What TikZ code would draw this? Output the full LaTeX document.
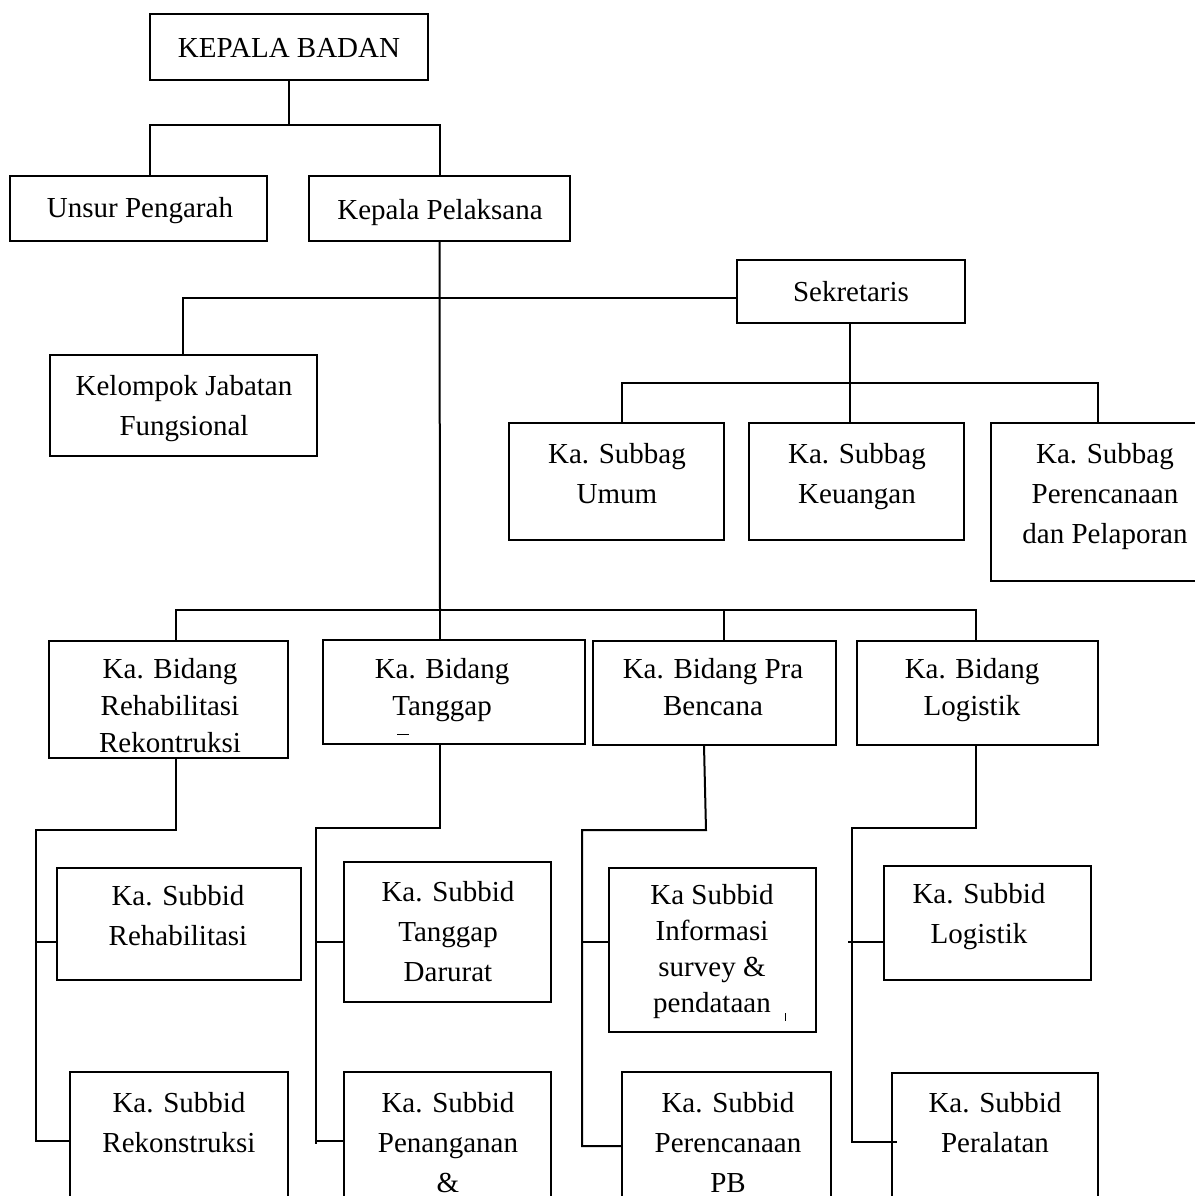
\documentclass[tikz,border=0pt]{standalone}
\usepackage{fontspec}
\setmainfont{Liberation Serif}
\usetikzlibrary{fit}
\begin{document}
\begin{tikzpicture}[x=0.5pt,y=-0.5pt,line width=1pt,
  orgbox/.style={draw,line width=1pt,inner sep=0pt,outer sep=0pt},
  lbl/.style={align=center,inner sep=0pt,anchor=north,font=\fontsize{14.5}{20}\selectfont},
  tight/.style={font=\fontsize{14.5}{18.5}\selectfont},
  tighter/.style={font=\fontsize{14.5}{18}\selectfont},
  speck/.style={line width=0.5pt}]
\useasboundingbox (0,0) rectangle (1195,1196);
\fill[white] (0,0) rectangle (1195,1196);
\clip (0,0) rectangle (1195,1196);
% boxes
\node[orgbox,fit={(150,14) (428,80)}] (kb) {};
\node[orgbox,fit={(10,176) (267,241)}] (up) {};
\node[orgbox,fit={(309,176) (570,241)}] (kp) {};
\node[orgbox,fit={(737,260) (965,323)}] (sek) {};
\node[orgbox,fit={(50,355) (317,456)}] (kjf) {};
\node[orgbox,fit={(509,423) (724,540)}] (sb1) {};
\node[orgbox,fit={(749,423) (964,540)}] (sb2) {};
\node[orgbox,fit={(991,423) (1215,581)}] (sb3) {};
\node[orgbox,fit={(49,641) (288,758)}] (b1) {};
\node[orgbox,fit={(323,640) (585,744)}] (b2) {};
\node[orgbox,fit={(593,641) (836,745)}] (b3) {};
\node[orgbox,fit={(857,641) (1098,745)}] (b4) {};
\node[orgbox,fit={(57,868) (301,980)}] (s11) {};
\node[orgbox,fit={(70,1072) (288,1230)}] (s12) {};
\node[orgbox,fit={(344,862) (551,1002)}] (s21) {};
\node[orgbox,fit={(344,1072) (551,1230)}] (s22) {};
\node[orgbox,fit={(609,868) (816,1032)}] (s31) {};
\node[orgbox,fit={(622,1072) (831,1230)}] (s32) {};
\node[orgbox,fit={(884,866) (1091,980)}] (s41) {};
\node[orgbox,fit={(892,1073) (1098,1230)}] (s42) {};
% texts
\node[lbl] (kbt) at (289,37) {KEPALA BADAN};
\node[lbl] (upt) at (140,196) {Unsur Pengarah};
\node[lbl] (kpt) at (440,198) {Kepala Pelaksana};
\node[lbl] (sekt) at (851,280) {Sekretaris};
\node[lbl] (kjft) at (184,374) {Kelompok Jabatan\\Fungsional};
\node[lbl] (sb1t) at (617,442) {Ka. Subbag\\Umum};
\node[lbl] (sb2t) at (857,442) {Ka. Subbag\\Keuangan};
\node[lbl] (sb3t) at (1105,442) {Ka. Subbag\\Perencanaan\\dan Pelaporan};
\node[lbl,tight] (b1t) at (170,657) {Ka. Bidang\\Rehabilitasi\\Rekontruksi};
\node[lbl,tight] (b2t) at (442,657) {Ka. Bidang\\Tanggap};
\node[lbl,tight] (b3t) at (713,657) {Ka. Bidang Pra\\Bencana};
\node[lbl,tight] (b4t) at (972,657) {Ka. Bidang\\Logistik};
\node[lbl] (s11t) at (178,884) {Ka. Subbid\\Rehabilitasi};
\node[lbl] (s12t) at (179,1091) {Ka. Subbid\\Rekonstruksi};
\node[lbl] (s21t) at (448,880) {Ka. Subbid\\Tanggap\\Darurat};
\node[lbl] (s22t) at (448,1091) {Ka. Subbid\\Penanganan\\\&};
\node[lbl,tighter] (s31t) at (712,883) {Ka Subbid\\Informasi\\survey \&\\pendataan};
\node[lbl] (s32t) at (728,1091) {Ka. Subbid\\Perencanaan\\PB};
\node[lbl] (s41t) at (979,882) {Ka. Subbid\\Logistik};
\node[lbl] (s42t) at (995,1091) {Ka. Subbid\\Peralatan};
% specks
\draw[speck] (397,734) -- (409,734);
\draw[speck] (785,1013) -- (785,1021);
% junction coordinates
\coordinate (j0) at (289,125);
\coordinate (j1) at (440,610);
\coordinate (j2) at (850,383);
% connectors
\draw (kb.south) -- (j0);
\draw (up.north -| 150,0) -- (150,125) -- (kp.north |- j0) -- (kp.north);
\draw (kp.south) -- (j1);
\draw (kjf.north -| 183,0) |- (sek.west |- 0,298);
\draw (sek.south -| j2) -- (j2);
\draw (sb1.north -| 622,0) -- (622,383) -- (1098,383) -- (sb3.north -| 1098,0);
\draw (j2) -- (sb2.north -| j2);
\draw (b1.north -| 176,0) -- (176,610) -- (976,610) -- (b4.north -| 976,0);
\draw (b2.north -| j1) -- (j1);
\draw (b3.north -| 724,0) -- (724,610);
\draw (b1.south -| 176,0) -- (176,830) -- (36,830) -- (36,1141) -- (s12.west |- 0,1141);
\draw (36,942) -- (s11.west |- 0,942);
\draw (b2.south -| 440,0) -- (440,828) -- (316,828) -- (316,1144);
\draw (316,1141) -- (s22.west |- 0,1141);
\draw (316,942) -- (s21.west |- 0,942);
\draw (b3.south -| 704,0) -- (706,830) -- (582,830) -- (582,1146) -- (s32.west |- 0,1146);
\draw (582,942) -- (s31.west |- 0,942);
\draw (b4.south -| 976,0) -- (976,828) -- (852,828) -- (852,1142) -- ([xshift=2.5pt]s42.west |- 0,1142);
\draw (848,942) -- (s41.west |- 0,942);
\end{tikzpicture}
\end{document}
